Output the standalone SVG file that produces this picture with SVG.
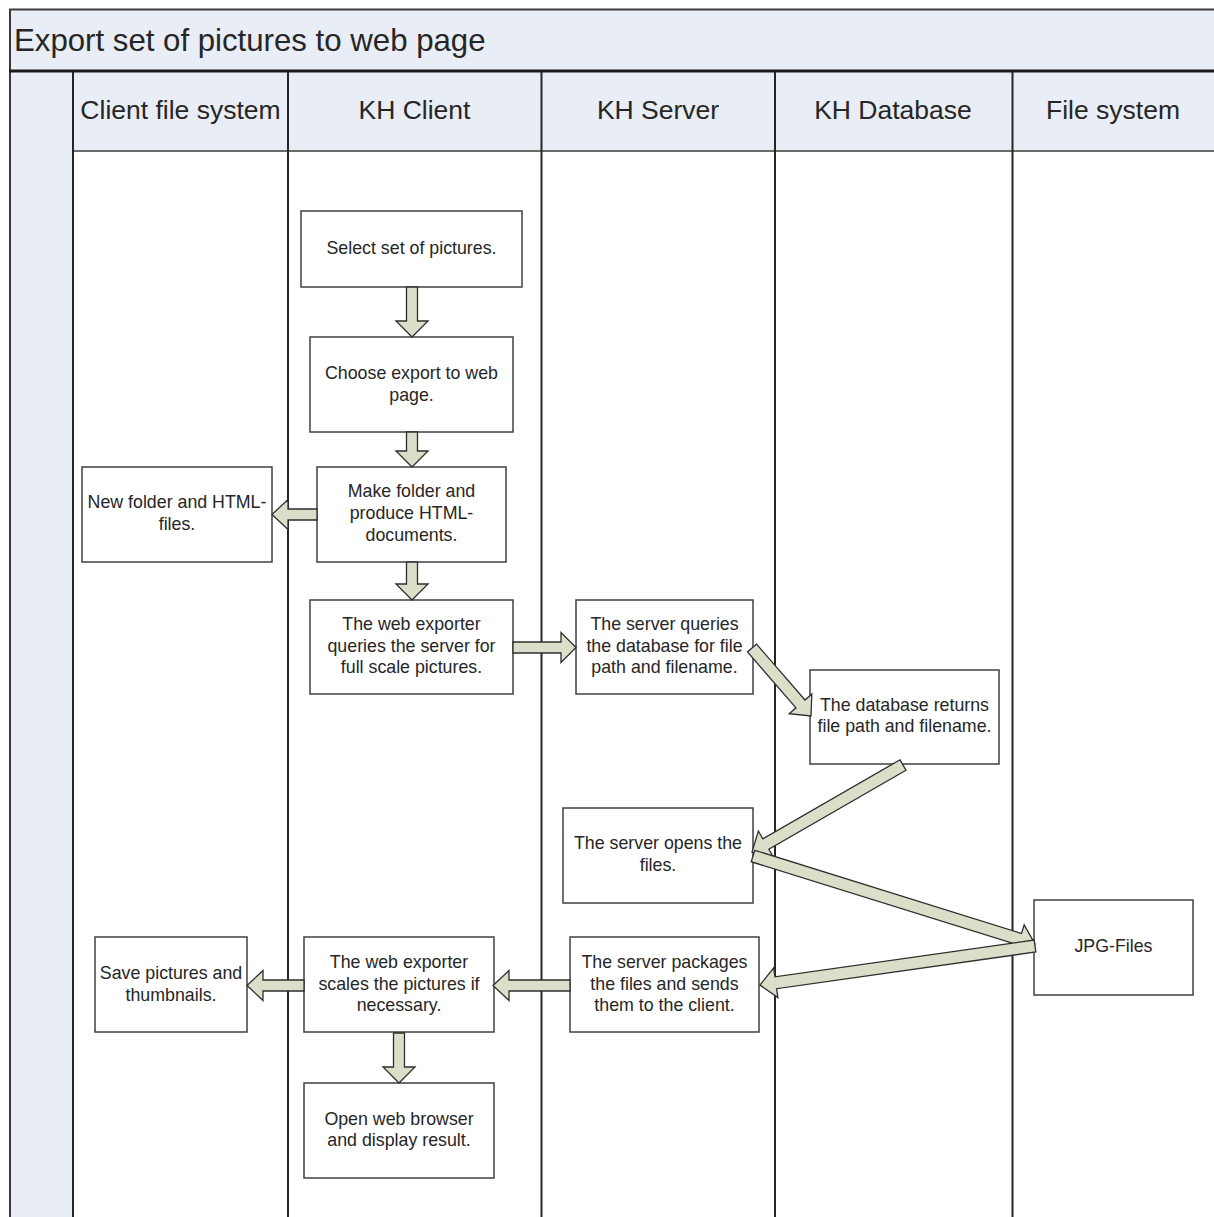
<svg xmlns="http://www.w3.org/2000/svg" width="1214" height="1217" viewBox="0 0 1214 1217">
  <style>
    .band { fill: #e9edf5; }
    .lane { stroke: #262626; stroke-width: 2; fill: none; }
    .box { fill: #ffffff; stroke: #404040; stroke-width: 1.5; }
    .txt { font-family: "Liberation Sans", Arial, sans-serif; font-size: 17.8px; fill: #262626; text-anchor: middle; }
    .hdr { font-family: "Liberation Sans", Arial, sans-serif; font-size: 26.5px; fill: #262626; text-anchor: middle; }
    .title { font-family: "Liberation Sans", Arial, sans-serif; font-size: 31.2px; fill: #262626; }
    .arrow { fill: #dbdec8; stroke: #2e2e2e; stroke-width: 1.3; stroke-linejoin: miter; }
  </style>

  <!-- swimlane frame -->
  <g id="frame">
    <rect class="band" x="9" y="9" width="1210" height="62"/>
    <rect class="band" x="9" y="71" width="64" height="1150"/>
    <rect class="band" x="73" y="71" width="1145" height="80"/>
    <rect x="73" y="151" width="1145" height="1070" fill="#ffffff"/>
    <line x1="9" y1="9.5" x2="1214" y2="9.5" stroke="#3a3a3a" stroke-width="2"/>
    <line x1="10" y1="9" x2="10" y2="1217" stroke="#3a3a3a" stroke-width="2"/>
    <line x1="9" y1="71" x2="1214" y2="71" stroke="#1a1a1a" stroke-width="3"/>
    <line x1="73" y1="151" x2="1214" y2="151" stroke="#6a6a6a" stroke-width="2"/>
    <line class="lane" x1="73" y1="71" x2="73" y2="1217"/>
    <line class="lane" x1="288" y1="71" x2="288" y2="1217"/>
    <line class="lane" x1="541.5" y1="71" x2="541.5" y2="1217"/>
    <line class="lane" x1="775" y1="71" x2="775" y2="1217"/>
    <line class="lane" x1="1012.5" y1="71" x2="1012.5" y2="1217"/>
    <text class="title" x="14" y="51">Export set of pictures to web page</text>
    <text class="hdr" x="180.5" y="119">Client file system</text>
    <text class="hdr" x="414.5" y="119">KH Client</text>
    <text class="hdr" x="658" y="119">KH Server</text>
    <text class="hdr" x="893" y="119">KH Database</text>
    <text class="hdr" x="1113" y="119">File system</text>
  </g>

  <!-- process steps -->
  <g id="select-set">
    <rect class="box" x="301" y="211" width="221" height="76"/>
    <text class="txt" x="411.5" y="254">Select set of pictures.</text>
  </g>
  <g id="choose-export">
    <rect class="box" x="310" y="337" width="203" height="95"/>
    <text class="txt" x="411.5" y="379">Choose export to web</text>
    <text class="txt" x="411.5" y="401">page.</text>
  </g>
  <g id="make-folder">
    <rect class="box" x="317" y="467" width="189" height="95"/>
    <text class="txt" x="411.5" y="497">Make folder and</text>
    <text class="txt" x="411.5" y="519">produce HTML-</text>
    <text class="txt" x="411.5" y="541">documents.</text>
  </g>
  <g id="new-folder">
    <rect class="box" x="82" y="467" width="190" height="95"/>
    <text class="txt" x="177" y="508">New folder and HTML-</text>
    <text class="txt" x="177" y="530">files.</text>
  </g>
  <g id="query-server">
    <rect class="box" x="310" y="600" width="203" height="94"/>
    <text class="txt" x="411.5" y="630">The web exporter</text>
    <text class="txt" x="411.5" y="652">queries the server for</text>
    <text class="txt" x="411.5" y="673">full scale pictures.</text>
  </g>
  <g id="query-database">
    <rect class="box" x="576" y="600" width="177" height="94"/>
    <text class="txt" x="664.5" y="630">The server queries</text>
    <text class="txt" x="664.5" y="652">the database for file</text>
    <text class="txt" x="664.5" y="673">path and filename.</text>
  </g>
  <g id="database-returns">
    <rect class="box" x="810" y="670" width="189" height="94"/>
    <text class="txt" x="904.5" y="711">The database returns</text>
    <text class="txt" x="904.5" y="732">file path and filename.</text>
  </g>
  <g id="open-files">
    <rect class="box" x="563" y="808" width="190" height="95"/>
    <text class="txt" x="658" y="849">The server opens the</text>
    <text class="txt" x="658" y="871">files.</text>
  </g>
  <g id="jpg-files">
    <rect class="box" x="1034" y="900" width="159" height="95"/>
    <text class="txt" x="1113.5" y="952">JPG-Files</text>
  </g>
  <g id="package-files">
    <rect class="box" x="570" y="937" width="189" height="95"/>
    <text class="txt" x="664.5" y="968">The server packages</text>
    <text class="txt" x="664.5" y="990">the files and sends</text>
    <text class="txt" x="664.5" y="1011">them to the client.</text>
  </g>
  <g id="scale-pictures">
    <rect class="box" x="304" y="937" width="190" height="95"/>
    <text class="txt" x="399" y="968">The web exporter</text>
    <text class="txt" x="399" y="990">scales the pictures if</text>
    <text class="txt" x="399" y="1011">necessary.</text>
  </g>
  <g id="save-pictures">
    <rect class="box" x="95" y="937" width="152" height="95"/>
    <text class="txt" x="171" y="979">Save pictures and</text>
    <text class="txt" x="171" y="1001">thumbnails.</text>
  </g>
  <g id="open-browser">
    <rect class="box" x="304" y="1083" width="190" height="95"/>
    <text class="txt" x="399" y="1125">Open web browser</text>
    <text class="txt" x="399" y="1146">and display result.</text>
  </g>

  <!-- block-arrow connectors: each drawn along +x from its tail, then placed -->
  <g id="connectors">
    <path class="arrow" transform="translate(412,287) rotate(90)" d="M0,-5.5 H34 V-16 L50,0 L34,16 V5.5 H0 Z"/>
    <path class="arrow" transform="translate(412,432) rotate(90)" d="M0,-5.5 H19 V-16 L35,0 L19,16 V5.5 H0 Z"/>
    <path class="arrow" transform="translate(412,562) rotate(90)" d="M0,-5.5 H22 V-16 L38,0 L22,16 V5.5 H0 Z"/>
    <path class="arrow" transform="translate(317,514.5) rotate(180)" d="M0,-5.5 H29 V-15 L45,0 L29,15 V5.5 H0 Z"/>
    <path class="arrow" transform="translate(513,647.5)" d="M0,-5.5 H48 V-15 L63,0 L48,15 V5.5 H0 Z"/>
    <path class="arrow" transform="translate(752,648) rotate(49.05)" d="M0,-6 H74 V-15 L90,0 L74,15 V6 H0 Z"/>
    <path class="arrow" transform="translate(903,765) rotate(150.05)" d="M0,-6 H158.3 V-15 L174.3,0 L158.3,15 V6 H0 Z"/>
    <path class="arrow" transform="translate(753,856) rotate(17.33)" d="M0,-6 H279.4 V-15 L295.4,0 L279.4,15 V6 H0 Z"/>
    <path class="arrow" transform="translate(1035,946) rotate(171.93)" d="M0,-6 H261.8 V-15 L277.8,0 L261.8,15 V6 H0 Z"/>
    <path class="arrow" transform="translate(570,985.5) rotate(180)" d="M0,-5.5 H61 V-15 L77,0 L61,15 V5.5 H0 Z"/>
    <path class="arrow" transform="translate(304,985.5) rotate(180)" d="M0,-5.5 H41 V-15 L57,0 L41,15 V5.5 H0 Z"/>
    <path class="arrow" transform="translate(399,1033) rotate(90)" d="M0,-5.5 H34 V-16 L50,0 L34,16 V5.5 H0 Z"/>
  </g>
</svg>
